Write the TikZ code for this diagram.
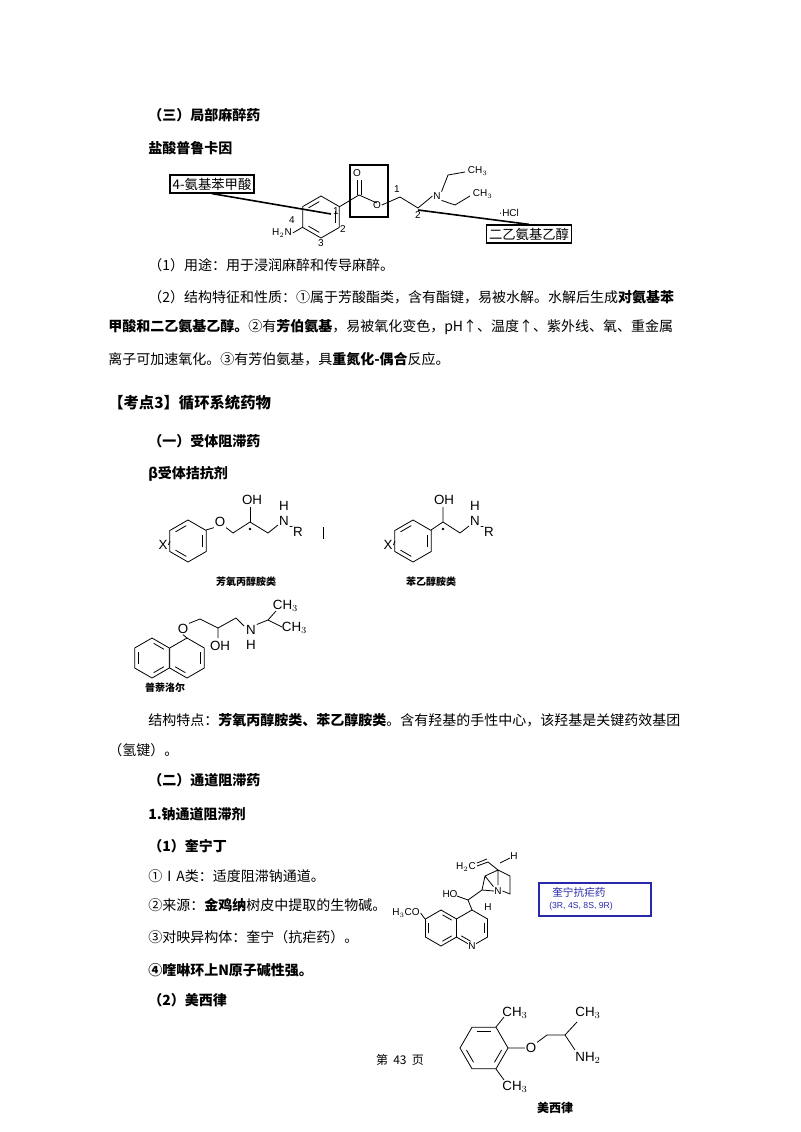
\documentclass[tikz,border=0pt]{standalone}
\usepackage{fontspec}
\setmainfont{Noto Sans CJK SC}
\newfontfamily\chem{Liberation Sans}
\usetikzlibrary{positioning}
\definecolor{boxblue}{RGB}{40,40,170}
\tikzset{
  txt/.style={anchor=west,inner sep=0pt,font=\fontsize{10.5}{12}\selectfont},
  head/.style={txt,font=\fontsize{10.5}{12}\selectfont\bfseries},
  atom/.style={inner sep=0.5pt,font=\chem\fontsize{7.5}{8}\selectfont},
  bigatom/.style={inner sep=0.5pt,font=\chem\fontsize{10}{11}\selectfont},
  tag/.style={inner sep=0pt,font=\fontsize{7.5}{8}\selectfont\bfseries},
  bond/.style={line width=0.6pt},
  tbox/.style={draw,line width=1.2pt,inner sep=2pt,font=\fontsize{10}{11}\selectfont},
}
\newcommand\hexring[4]{\draw[bond,shift={(#1,#2)}] (#4:#3)--(#4+60:#3)--(#4+120:#3)--(#4+180:#3)--(#4+240:#3)--(#4+300:#3)--cycle;}
% inner double bond on the edge from angle #4 to #4+60
\newcommand\dbl[4]{\draw[bond,shift={(#1,#2)}] ($(#4:0.78*#3)!0.12!(#4+60:0.78*#3)$)--($(#4+60:0.78*#3)!0.12!(#4:0.78*#3)$);}
\usetikzlibrary{calc}
\begin{document}
\begin{tikzpicture}[x=0.75pt,y=-0.75pt]
\useasboundingbox (0,0) rectangle (800,1132);
% text lines
\node[head] (t1) at (148,115) {（三）局部麻醉药};
\node[head] (t2) at (148,148) {盐酸普鲁卡因};
\node[txt] (t3) at (148,265) {（1）用途：用于浸润麻醉和传导麻醉。};
\node[txt] (t4) at (148,297) {（2）结构特征和性质：①属于芳酸酯类，含有酯键，易被水解。水解后生成\textbf{对氨基苯}};
\node[txt] (t5) at (108,327) {\textbf{甲酸和二乙氨基乙醇。}②有\textbf{芳伯氨基}，易被氧化变色，pH↑、温度↑、紫外线、氧、重金属};
\node[txt] (t6) at (108,359) {离子可加速氧化。③有芳伯氨基，具\textbf{重氮化-偶合}反应。};
\node[txt,font=\fontsize{11.5}{13}\selectfont\bfseries] (t7) at (108,403) {【考点3】循环系统药物};
\node[head] (t8) at (148,441) {（一）受体阻滞药};
\node[head] (t9) at (148,474) {β受体拮抗剂};
\node[txt] (t10) at (148,720) {结构特点：\textbf{芳氧丙醇胺类、苯乙醇胺类}。含有羟基的手性中心，该羟基是关键药效基团};
\node[txt] (t11) at (108,750) {（氢键）。};
\node[head] (t12) at (148,780) {（二）通道阻滞药};
\node[head] (t13) at (148,814) {1.钠通道阻滞剂};
\node[head] (t14) at (148,846) {（1）奎宁丁};
\node[txt] (t15) at (148,876) {①ⅠA类：适度阻滞钠通道。};
\node[txt] (t16) at (148,905) {②来源：\textbf{金鸡纳}树皮中提取的生物碱。};
\node[txt] (t17) at (148,937) {③对映异构体：奎宁（抗疟药）。};
\node[head] (t18) at (148,970) {④喹啉环上N原子碱性强。};
\node[head] (t19) at (148,1000) {（2）美西律};
\node[txt,anchor=center,font=\fontsize{9}{10}\selectfont] (pg) at (400,1060) {第\hspace{4pt}43\hspace{4pt}页};
% procaine
\hexring{321}{217}{21}{30}
\dbl{321}{217}{21}{90}\dbl{321}{217}{21}{330}\dbl{321}{217}{21}{210}
\node[atom] (nh2) at (282,233) {H$_2$N};
\draw[bond] (nh2.east)--(303,227);
\node[atom] (co) at (357,173) {O};
\draw[bond] (339,207)--(359,195)--(377,203);
\draw[bond] (357,180)--(357,195) (361,180)--(361,195);
\node[atom] (oe) at (377,205) {O};
\draw[bond] (oe.east)--(400,197)--(418,208);
\node[atom] (n) at (437,196) {N};
\draw[bond] (418,208)--(n.west) (n.north east)--(448,175)--(465,172) (n.south east)--(455,205)--(470,196);
\node[atom,anchor=west] (me1) at (467,171) {CH$_3$};
\node[atom,anchor=west] (me2) at (472,194) {CH$_3$};
\node[atom,anchor=west] (hcl) at (498,213) {·HCl};
\node[atom] at (336,211) {1}; \node[atom] at (292,220) {4};
\node[atom] at (343,229) {2}; \node[atom] at (321,243) {3};
\node[atom] at (397,189) {1}; \node[atom] at (418,215) {2};
\draw[line width=1pt] (350,165) rectangle (388,217);
\node[tbox] (b1) at (212,184) {4-氨基苯甲酸};
\node[tbox] (b2) at (529,234) {二乙氨基乙醇};
\draw[line width=1.2pt] (b1.south)--(331,214);
\draw[line width=1.2pt] (418,210)--(b2.north);
% aryloxypropanolamines
\hexring{188}{541}{21}{30}
\dbl{188}{541}{21}{90}\dbl{188}{541}{21}{330}\dbl{188}{541}{21}{210}
\node[bigatom] (x1) at (163,545) {X};
\draw[bond] (x1.east)--(170,541);
\node[bigatom] (o1) at (220,522) {O};
\draw[bond] (206,530)--(o1.south west) (o1.south east)--(233,533)--(250,522)--(268,533)--(278,525);
\draw[bond] (250,522)--(250,507);
\node[bigatom] (oh1) at (252,500) {OH};
\node[bigatom] (n1) at (284,521) {N}; \node[bigatom] at (284,506) {H};
\node[bigatom] (r1) at (298,532) {R};
\draw[bond] (n1.south east)--(r1.north west);
\fill (250,529) circle (1pt);
\draw (323,527)--(323,539);
\node[tag] at (246,582) {芳氧丙醇胺类};
% phenylethanolamines
\hexring{413}{541}{21}{30}
\dbl{413}{541}{21}{90}\dbl{413}{541}{21}{330}\dbl{413}{541}{21}{210}
\node[bigatom] (x2) at (388,545) {X};
\draw[bond] (x2.east)--(395,541);
\draw[bond] (431,530)--(443,522)--(460,533)--(469,526) (443,522)--(443,507);
\node[bigatom] (oh2) at (444,500) {OH};
\node[bigatom] (n2) at (475,521) {N}; \node[bigatom] at (475,506) {H};
\node[bigatom] (r2) at (489,532) {R};
\draw[bond] (n2.south east)--(r2.north west);
\fill (443,529) circle (1pt);
\node[tag] at (431,582) {苯乙醇胺类};
% propranolol
\hexring{187}{658}{20}{30}
\hexring{152}{658}{20}{30}
\dbl{187}{658}{20}{330}\dbl{187}{658}{20}{90}
\dbl{152}{658}{20}{150}\dbl{152}{658}{20}{270}\dbl{152}{658}{20}{30}
\node[bigatom] (o3) at (183,629) {O};
\draw[bond] (o3.south)--(187,638) (o3.north east)--(200,619)--(218,628)--(236,618)--(244,626) (218,628)--(218,638);
\node[bigatom] (oh3) at (220,646) {OH};
\node[bigatom] (n3) at (251,630) {N}; \node[bigatom] at (251,645) {H};
\draw[bond] (n3.north east)--(268,620)--(276,611) (268,620)--(282,627);
\node[bigatom,anchor=west] at (272,606) {CH$_3$};
\node[bigatom,anchor=west] at (281,628) {CH$_3$};
\node[tag] at (165,688) {普萘洛尔};
% quinine
\hexring{472}{928}{18}{30}
\hexring{441}{928}{18}{30}
\dbl{472}{928}{18}{330}\dbl{472}{928}{18}{90}
\dbl{441}{928}{18}{150}\dbl{441}{928}{18}{270}\dbl{441}{928}{18}{30}
\node[atom,fill=white] (qn) at (472,946) {N};
\node[atom] (meo) at (406,913) {H$_3$CO};
\draw[bond] (meo.east)--(425,919);
\draw[bond] (472,910)--(468,900)--(482,890)--(494,891) (468,900)--(457,896);
\node[atom] (ho) at (450,894) {HO};
\node[atom] (bn) at (498,891) {N};
\draw[bond] (482,890)--(485,876)--(498,870)--(510,876)--(510,894)--(bn.east) (485,876)--(bn.north west) (498,870)--(498,885) (498,870)--(488,862)--(477,866);
\draw[bond] (487,859)--(477,863);
\node[atom] (h2c) at (466,867) {H$_2$C};
\node[atom] at (514,856) {H}; \draw[bond] (500,863)--(510,858);
\node[atom] at (488,907) {H};
\draw[boxblue,line width=1pt] (539,883) rectangle (651,916);
\node[anchor=west,inner sep=0pt,text=boxblue,font=\fontsize{8}{9}\selectfont] (qbox) at (552,892) {奎宁抗疟药};
\node[anchor=west,inner sep=0pt,text=boxblue,font=\chem\fontsize{6.5}{7}\selectfont] at (549,906) {(3R, 4S, 8S, 9R)};
% mexiletine
\hexring{484}{1048}{24}{0}
\dbl{484}{1048}{24}{0}\dbl{484}{1048}{24}{120}\dbl{484}{1048}{24}{240}
\node[bigatom] (mo) at (531,1048) {O};
\draw[bond] (508,1048)--(mo.west) (mo.north east)--(547,1035)--(565,1035)--(577,1022) (565,1035)--(575,1050);
\draw[bond] (496,1027)--(504,1017) (496,1069)--(504,1080);
\node[bigatom] at (515,1013) {CH$_3$};
\node[bigatom] at (515,1087) {CH$_3$};
\node[bigatom] at (588,1013) {CH$_3$};
\node[bigatom] at (588,1058) {NH$_2$};
\node[tag,font=\fontsize{9}{10}\selectfont\bfseries] at (555,1108) {美西律};
\end{tikzpicture}
\end{document}
